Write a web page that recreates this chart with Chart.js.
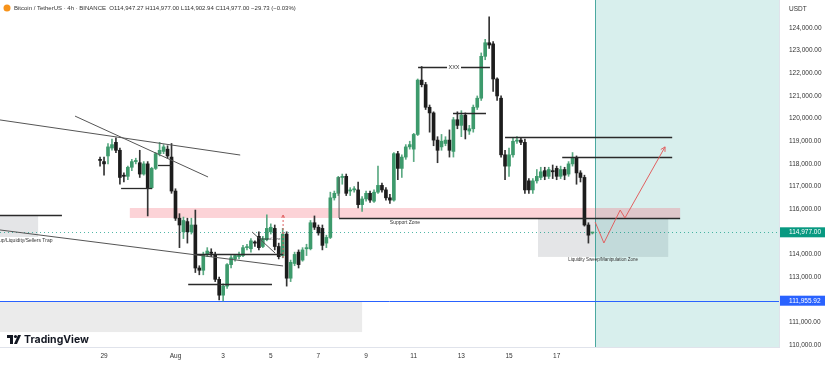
<!DOCTYPE html>
<html>
<head>
<meta charset="utf-8">
<script src="https://cdn.jsdelivr.net/npm/chart.js@4.4.1/dist/chart.umd.min.js"></script>
<style>
  html, body { margin: 0; padding: 0; background: #fff; }
  #wrap { width: 825px; height: 365px; }
</style>
</head>
<body>
<div id="wrap"><canvas id="chart" width="825" height="365"></canvas></div>
<script>
// 4h candles, index 0 = 29 Jul 00:00
const firstIndex = -1;
const opens = [118200,118100,118350,118700,118950,118600,117500,117450,117850,118100,118050,117550,118000,116950,117800,118450,118550,118650,118300,116800,
  115600,115000,115450,115000,115300,113400,113300,114000,114100,114000,112900,112200,112600,113550,113800,113900,113950,114300,114250,114550,
  114800,114350,114650,115000,115150,114350,113950,114900,112950,113600,114100,113750,114250,114250,115400,115200,115150,114500,114750,116500,
  116700,117400,117450,116800,116850,116850,116200,116450,116700,116350,116750,117050,116850,116500,116400,118450,117800,118300,118750,118650,
  119300,121700,121500,120500,120250,119050,118750,118900,119050,118550,119950,119700,120150,119450,119550,120500,120900,122750,123350,123300,
  121750,120900,118400,117900,118400,119000,119050,118950,117250,116850,117250,117400,117700,117450,117700,117800,117450,117750,117550,118000,
  118250,117600,117400,115300,114947.27];
const highs = [118300,118300,118900,119100,119150,118700,117600,117900,118200,118250,118600,118100,118100,117850,118500,118950,118850,118800,118900,116900,
  115800,115650,115600,115600,115960,113500,114100,114300,114250,114100,113000,112700,113600,113950,114000,114100,114400,114450,114700,114600,
  115000,114800,115750,115350,115300,114500,115150,115000,113750,114100,114200,114300,114450,115500,115700,115300,115300,114850,116750,116800,
  117450,117550,117550,116950,117000,117200,116550,116800,116800,116850,117900,117150,116950,116650,118500,118550,118400,118850,119000,119350,
  121750,122300,121600,120600,120300,119200,119300,119200,119500,120050,120300,120350,120250,119700,120600,121000,122900,123500,124500,123400,
  121800,121000,118600,118700,119150,119200,119150,119100,117350,117350,117750,117850,117850,117850,117950,117900,117900,117850,118100,118500,
  118350,117700,117500,115400,114977];
const lows = [117900,117500,118000,118600,118500,117100,117200,117300,117700,118000,117400,117500,115700,116900,117750,118350,118450,118250,116700,115500,
  114300,114700,114500,114900,113200,113100,113100,113900,113900,112800,111990,111950,112500,113400,113700,113800,113900,114200,114100,114350,
  114200,114300,114600,114900,114200,113800,113850,112600,112800,113500,113400,113700,113950,114200,115100,114850,114200,114300,114700,116400,
  116600,117100,116600,116600,116750,116050,115900,116350,116300,116300,116700,116750,116400,116250,116350,117300,117400,118200,118650,118100,
  119250,121400,120400,119400,118800,118050,118600,118800,118300,118300,119550,119200,119100,119300,119400,120400,120800,122600,123100,121200,
  120800,118300,117300,117450,118300,118900,118850,116700,116700,116700,117150,117300,117300,117350,117350,117300,117350,117300,117450,117900,
  117100,117200,115250,114500,114902.94];
const closes = [118150,118000,118750,118850,118600,117400,117450,117850,118100,118150,117550,118000,116950,117800,118450,118600,118750,118350,116800,115600,
  115300,115500,115000,115300,113400,113300,114000,114150,114050,112900,112200,112600,113550,113850,113950,114000,114300,114320,114600,114500,
  114300,114700,115150,115200,114350,113900,114900,112950,113650,114000,113550,114200,114300,115400,115200,114950,114400,114750,116500,116700,
  117400,117420,116700,116850,116900,116200,116450,116700,116400,116750,117050,116850,116500,116400,118450,117800,118300,118750,118850,119300,
  121700,121500,120500,120250,119050,118600,119000,119050,118600,119950,119700,120150,119500,119550,120500,120900,122750,123350,123250,121750,
  121000,118400,117900,118400,119000,119050,118950,116850,116850,117250,117450,117650,117450,117750,117650,117450,117750,117500,118000,118250,
  117600,117400,115300,114850,114977];

const dayTicks = [0, 18, 30, 42, 54, 66, 78, 90, 102, 114];
const dayLabels = ["29", "Aug", "3", "5", "7", "9", "11", "13", "15", "17"];
const priceTicks = [110000, 111000, 113000, 114000, 116000, 117000, 118000, 119000, 120000, 121000, 122000, 123000, 124000];
const lastPrice = 114977;
const blueLevel = 111955.92;
const viewStart = -26.2, viewEnd = 170;
const priceMin = 109911, priceMax = 125238;

// drawings, in [candle index, price]
const supportZone = [6.5, 145.1, 116050, 115610];
const sweepZone = [109.3, 142.1, 115610, 113890];
const trapZone = [-26.2, -16.6, 115740, 114770];
const lowerBox = [-26.2, 65, 111900, 110570];
const projectionStart = 123.7;
const levelLines = [
  [4.3, 12.1, 116935], [13.6, 17.1, 117950], [23.4, 45.1, 114020], [21.2, 42.3, 112690],
  [87.9, 96.2, 120250], [101, 143.1, 119190], [115.4, 143.1, 118300], [59.2, 145.1, 115610], [-26.2, -10.6, 115740]
];
const trendLines = [
  [-26.2, 119940, 34.3, 118390], [-7.3, 120110, 26.2, 117420], [-26.2, 115080, 45.1, 113490],
  [37.3, 114990, 43.1, 114060], [59.2, 117420, 59.2, 115610]
];
const xxxLine = [79.1, 97.2, 122280];
const pathPoints = [[123.7, 115430], [125.9, 114505], [130.0, 115960], [131.2, 115610], [141.3, 118750]];
const dashedArrow = [45.1, 113843, 115742];

const green = '#3d9a6c', black = '#1c1c1c';
const fmt = new Intl.NumberFormat('en-US', { minimumFractionDigits: 2, maximumFractionDigits: 2 });
const xs = opens.map((_, i) => firstIndex + i);
const isUp = i => closes[i] >= opens[i];

function arrowHead(ctx, x1, y1, x2, y2, size) {
    const a = Math.atan2(y2 - y1, x2 - x1);
    ctx.beginPath();
    ctx.moveTo(x2 - size * Math.cos(a - 0.5), y2 - size * Math.sin(a - 0.5));
    ctx.lineTo(x2, y2);
    ctx.lineTo(x2 - size * Math.cos(a + 0.5), y2 - size * Math.sin(a + 0.5));
    ctx.stroke();
}

const drawings = {
    id: 'drawings',
    beforeDatasetsDraw(chart) {
        const ctx = chart.ctx, X = v => chart.scales.x.getPixelForValue(v), Y = v => chart.scales.y.getPixelForValue(v);
        const area = chart.chartArea;
        ctx.save();
        ctx.beginPath();
        ctx.rect(area.left, area.top, area.right - area.left, area.bottom - area.top);
        ctx.clip();

        ctx.fillStyle = '#ebebeb';
        ctx.fillRect(X(lowerBox[0]), Y(lowerBox[2]), X(lowerBox[1]) - X(lowerBox[0]), Y(lowerBox[3]) - Y(lowerBox[2]));

        ctx.fillStyle = 'rgba(120,123,134,0.2)';
        ctx.fillRect(X(trapZone[0]), Y(trapZone[2]), X(trapZone[1]) - X(trapZone[0]), Y(trapZone[3]) - Y(trapZone[2]));
        ctx.fillRect(X(sweepZone[0]), Y(sweepZone[2]), X(sweepZone[1]) - X(sweepZone[0]), Y(sweepZone[3]) - Y(sweepZone[2]));

        ctx.fillStyle = 'rgba(38,166,154,0.18)';
        ctx.fillRect(X(projectionStart), area.top, area.right - X(projectionStart), area.bottom - area.top);
        ctx.strokeStyle = 'rgba(38,150,140,0.8)';
        ctx.lineWidth = 1;
        ctx.beginPath();
        ctx.moveTo(Math.round(X(projectionStart)) + 0.5, area.top);
        ctx.lineTo(Math.round(X(projectionStart)) + 0.5, area.bottom);
        ctx.stroke();

        ctx.fillStyle = 'rgba(242,80,95,0.25)';
        ctx.fillRect(X(supportZone[0]), Y(supportZone[2]), X(supportZone[1]) - X(supportZone[0]), Y(supportZone[3]) - Y(supportZone[2]));

        ctx.strokeStyle = 'rgba(8,153,129,0.7)';
        ctx.setLineDash([1, 3]);
        ctx.beginPath();
        ctx.moveTo(area.left, Math.round(Y(lastPrice)) + 0.5);
        ctx.lineTo(area.right, Math.round(Y(lastPrice)) + 0.5);
        ctx.stroke();
        ctx.setLineDash([]);

        ctx.strokeStyle = '#2962ff';
        ctx.beginPath();
        ctx.moveTo(area.left, Math.round(Y(blueLevel)) + 0.5);
        ctx.lineTo(area.right, Math.round(Y(blueLevel)) + 0.5);
        ctx.stroke();
        ctx.restore();
    },
    afterDatasetsDraw(chart) {
        const ctx = chart.ctx, X = v => chart.scales.x.getPixelForValue(v), Y = v => chart.scales.y.getPixelForValue(v);
        const area = chart.chartArea;
        ctx.save();
        ctx.beginPath();
        ctx.rect(area.left, area.top, area.right - area.left, area.bottom - area.top);
        ctx.clip();

        ctx.strokeStyle = '#555';
        ctx.lineWidth = 1;
        trendLines.forEach(t => {
            ctx.beginPath();
            ctx.moveTo(X(t[0]), Y(t[1]));
            ctx.lineTo(X(t[2]), Y(t[3]));
            ctx.stroke();
        });

        ctx.strokeStyle = '#2a2a2a';
        ctx.lineWidth = 1.3;
        levelLines.forEach(l => {
            const y = Math.round(Y(l[2])) + 0.5;
            ctx.beginPath();
            ctx.moveTo(X(l[0]), y);
            ctx.lineTo(X(l[1]), y);
            ctx.stroke();
        });

        const xy = Math.round(Y(xxxLine[2])) + 0.5;
        const xm = (X(xxxLine[0]) + X(xxxLine[1])) / 2;
        ctx.beginPath();
        ctx.moveTo(X(xxxLine[0]), xy); ctx.lineTo(xm - 7, xy);
        ctx.moveTo(xm + 7, xy); ctx.lineTo(X(xxxLine[1]), xy);
        ctx.stroke();

        ctx.fillStyle = '#333';
        ctx.textAlign = 'center';
        ctx.textBaseline = 'middle';
        ctx.font = '5.5px "Liberation Sans"';
        ctx.fillText('XXX', xm, xy);
        ctx.font = '5px "Liberation Sans"';
        ctx.fillText('Support Zone', X(75.8), Y(115390));
        ctx.font = '4.5px "Liberation Sans"';
        ctx.fillText('Liquidity Sweep/Manipulation Zone', X(125.7), Y(113754));
        ctx.textAlign = 'left';
        ctx.font = '5px "Liberation Sans"';
        ctx.fillText('up/Liquidity/Sellers Trap', X(viewStart) - 1, Y(114594));
        ctx.font = '3.5px "Liberation Sans"';
        ctx.fillText('Rebound Zone', X(38.6), Y(114700));

        ctx.strokeStyle = '#e06060';
        ctx.lineWidth = 1;
        ctx.beginPath();
        pathPoints.forEach((p, i) => i ? ctx.lineTo(X(p[0]), Y(p[1])) : ctx.moveTo(X(p[0]), Y(p[1])));
        ctx.stroke();
        const n = pathPoints.length;
        arrowHead(ctx, X(pathPoints[n - 2][0]), Y(pathPoints[n - 2][1]), X(pathPoints[n - 1][0]), Y(pathPoints[n - 1][1]), 5);

        ctx.setLineDash([2, 2]);
        ctx.beginPath();
        ctx.moveTo(X(dashedArrow[0]), Y(dashedArrow[1]));
        ctx.lineTo(X(dashedArrow[0]), Y(dashedArrow[2]));
        ctx.stroke();
        ctx.setLineDash([]);
        arrowHead(ctx, X(dashedArrow[0]), Y(dashedArrow[1]), X(dashedArrow[0]), Y(dashedArrow[2]), 3);
        ctx.restore();
    },
    afterDraw(chart) {
        const ctx = chart.ctx, Y = v => chart.scales.y.getPixelForValue(v);
        const area = chart.chartArea;
        ctx.save();
        ctx.font = '6.5px "Liberation Sans"';
        ctx.textBaseline = 'middle';
        ctx.textAlign = 'left';
        [[lastPrice, '#089981'], [blueLevel, '#2962ff']].forEach(([v, c]) => {
            const y = Y(v);
            ctx.fillStyle = c;
            ctx.fillRect(area.right + 1, y - 5, 46, 10);
            ctx.fillStyle = '#fff';
            ctx.fillText(fmt.format(v), area.right + 10, y);
        });

        ctx.fillStyle = '#333';
        ctx.fillText('USDT', area.right + 10, 9);

        // legend line
        ctx.fillStyle = '#f7931a';
        ctx.beginPath();
        ctx.arc(7, 8, 3.5, 0, Math.PI * 2);
        ctx.fill();
        ctx.fillStyle = '#333';
        ctx.font = '6px "Liberation Sans"';
        ctx.fillText('Bitcoin / TetherUS \u00b7 4h \u00b7 BINANCE  O114,947.27 H114,977.00 L114,902.94 C114,977.00 \u221229.73 (\u22120.03%)', 14, 8.5);

        // TradingView mark
        ctx.fillStyle = '#131722';
        ctx.fillRect(7, 335, 6, 3);
        ctx.fillRect(10, 335, 3, 9);
        ctx.beginPath();
        ctx.arc(15.5, 336.5, 1.6, 0, Math.PI * 2);
        ctx.fill();
        ctx.beginPath();
        ctx.moveTo(18, 335); ctx.lineTo(21, 335); ctx.lineTo(17, 344); ctx.lineTo(14, 344);
        ctx.fill();
        ctx.font = 'bold 10.5px Inter';
        ctx.fillText('TradingView', 24, 340);
        ctx.restore();
    }
};

new Chart(document.getElementById('chart'), {
    type: 'bar',
    data: {
        datasets: [{
            label: 'wicks',
            data: xs.map((x, i) => ({ x: x, y: [lows[i], highs[i]] })),
            backgroundColor: ctx => isUp(ctx.dataIndex) ? '#5aa982' : '#333',
            barThickness: 1,
            grouped: false,
            order: 1
        }, {
            label: 'bodies',
            data: xs.map((x, i) => ({ x: x, y: [opens[i], closes[i]] })),
            backgroundColor: ctx => isUp(ctx.dataIndex) ? green : black,
            barThickness: 3,
            minBarLength: 1,
            grouped: false,
            order: 0
        }]
    },
    options: {
        responsive: false,
        animation: false,
        devicePixelRatio: 1,
        layout: { padding: 0 },
        plugins: { legend: { display: false }, tooltip: { enabled: false } },
        scales: {
            x: {
                type: 'linear',
                min: viewStart,
                max: viewEnd,
                offset: false,
                grid: { display: false, drawTicks: false },
                border: { display: true, color: '#e0e3eb' },
                ticks: {
                    autoSkip: false,
                    maxRotation: 0,
                    padding: 5,
                    color: '#333',
                    font: { family: 'Liberation Sans', size: 6.5 },
                    callback: v => { const k = dayTicks.indexOf(v); return k >= 0 ? dayLabels[k] : ''; }
                },
                afterBuildTicks: a => { a.ticks = dayTicks.map(v => ({ value: v })); },
                afterFit: a => { a.height = 18; a.paddingLeft = 0; a.paddingRight = 0; }
            },
            y: {
                type: 'linear',
                position: 'right',
                min: priceMin,
                max: priceMax,
                grid: { display: false, drawTicks: false },
                border: { display: true, color: '#e0e3eb' },
                ticks: {
                    padding: 10,
                    color: '#333',
                    font: { family: 'Liberation Sans', size: 6.5 },
                    callback: v => fmt.format(v)
                },
                afterBuildTicks: a => { a.ticks = priceTicks.map(v => ({ value: v })); },
                afterFit: a => { a.width = 46; a.paddingTop = 0; a.paddingBottom = 0; }
            }
        }
    },
    plugins: [drawings]
});
</script>
</body>
</html>
